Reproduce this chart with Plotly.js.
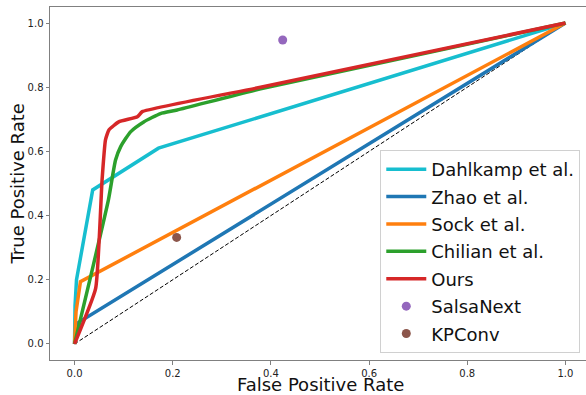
<!DOCTYPE html>
<html><head><meta charset="utf-8">
<script src="https://cdn.plot.ly/plotly-3.0.1.min.js"></script>
<style>html,body{margin:0;padding:0;overflow:hidden;background:#fff}</style>
</head><body><div id="chart"></div>
<script>
const dahlkampX = [0, 0.001, 0.004, 0.037, 0.171, 1];
const dahlkampY = [0, 0.12, 0.2, 0.48, 0.61, 1];
const zhaoX = [0, 0.006, 1];
const zhaoY = [0, 0.065, 1];
const sockX = [0, 0.003, 0.012, 1];
const sockY = [0, 0.1, 0.194, 1];
const chilianX = [0, 0.036, 0.069, 0.0835, 0.094, 0.114, 0.141, 0.175, 0.209, 0.379, 1];
const chilianY = [0, 0.231, 0.449, 0.573, 0.615, 0.661, 0.692, 0.718, 0.729, 0.795, 1];
const oursX = [0, 0.043, 0.056, 0.063, 0.07, 0.09, 0.128, 0.138, 0.379, 1];
const oursY = [0, 0.173, 0.51, 0.636, 0.667, 0.692, 0.708, 0.724, 0.80, 1];
const salsaX = [0.424], salsaY = [0.947];
const kpconvX = [0.208], kpconvY = [0.332];
const diagX = [0, 1], diagY = [0, 1];
const tickVals = [0, 0.2, 0.4, 0.6, 0.8, 1.0];
const xTitle = 'False Positive Rate';
const yTitle = 'True Positive Rate';

const lw = 3.5;
const traces = [
  {x: diagX, y: diagY, mode: 'lines', line: {color: '#000', width: 1, dash: '4px,2px'}, showlegend: false, hoverinfo: 'skip'},
  {x: dahlkampX, y: dahlkampY, mode: 'lines', name: 'Dahlkamp et al.', legendgroup: 'a', line: {color: '#17becf', width: lw}},
  {x: zhaoX, y: zhaoY, mode: 'lines', name: 'Zhao et al.', legendgroup: 'b', line: {color: '#1f77b4', width: lw}},
  {x: sockX, y: sockY, mode: 'lines', name: 'Sock et al.', legendgroup: 'c', line: {color: '#ff7f0e', width: lw}},
  {x: chilianX, y: chilianY, mode: 'lines', name: 'Chilian et al.', legendgroup: 'd', line: {color: '#2ca02c', width: lw, shape: 'spline', smoothing: 0.5}},
  {x: oursX, y: oursY, mode: 'lines', name: 'Ours', legendgroup: 'e', line: {color: '#d62728', width: lw, shape: 'spline', smoothing: 0.4}},
  {x: salsaX, y: salsaY, mode: 'markers', name: 'SalsaNext', legendgroup: 'f', marker: {color: '#9467bd', size: 9}},
  {x: kpconvX, y: kpconvY, mode: 'markers', name: 'KPConv', legendgroup: 'g', marker: {color: '#8c564b', size: 9}}
];
const axisCommon = {
  range: [-0.05, 1.05], tickvals: tickVals, tickformat: '.1f', automargin: false,
  showgrid: false, zeroline: false, showline: true, mirror: true,
  linecolor: '#808080', linewidth: 1, ticks: 'outside', ticklen: 3.5, tickcolor: '#808080',
  tickfont: {family: 'DejaVu Sans', size: 10, color: '#222'}
};
const titleFont = {family: 'DejaVu Sans', size: 18, color: '#111'};
const layout = {
  width: 590, height: 395,
  margin: {l: 50, r: 0, t: 7, b: 35},
  paper_bgcolor: '#fff', plot_bgcolor: '#fff',
  xaxis: Object.assign({}, axisCommon),
  yaxis: Object.assign({}, axisCommon),
  annotations: [
    {text: xTitle, xref: 'paper', yref: 'paper', x: 0.5, y: -0.069, xanchor: 'center', yanchor: 'middle', borderpad: 0, showarrow: false, font: titleFont},
    {text: yTitle, xref: 'paper', yref: 'paper', x: -0.0593, y: 0.5, xanchor: 'center', yanchor: 'middle', borderpad: 0, textangle: -90, showarrow: false, font: titleFont}
  ],
  legend: {x: 0.982, y: 0.02, xanchor: 'right', yanchor: 'bottom', bgcolor: '#fff',
    bordercolor: '#d0d0d0', borderwidth: 1, font: {family: 'DejaVu Sans', size: 18, color: '#111'},
    traceorder: 'grouped', tracegroupgap: 1, itemwidth: 40},
  showlegend: true
};
Plotly.newPlot('chart', traces, layout, {displayModeBar: false, staticPlot: true});
</script></body></html>
